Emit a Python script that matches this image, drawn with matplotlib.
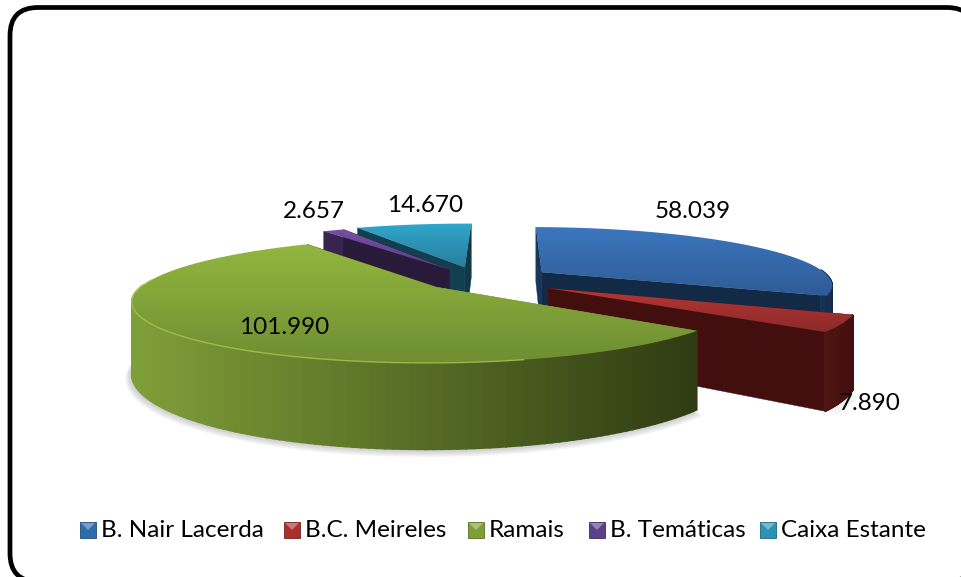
#!/usr/bin/env python3
"""Exploded 3D-look pie with legend inside a rounded frame."""
import numpy as np
import matplotlib
matplotlib.use('Agg')
import matplotlib.pyplot as plt
from matplotlib.colors import to_rgb
from matplotlib.patches import FancyBboxPatch, Polygon, Rectangle

plt.rcParams['font.family'] = ['Lato', 'DejaVu Sans']

categories = ['B. Nair Lacerda', 'B.C. Meireles', 'Ramais', 'B. Temáticas', 'Caixa Estante']
values = [58039, 7890, 101990, 2657, 14670]

# styles: top surface light/dark, wall light/dark, legend colour
top_light = ['#3b76bd', '#b53634', '#93b640', '#7350a2', '#2fa8cc']
top_dark = ['#2f5b96', '#8c2a2a', '#6e8e31', '#5c3e85', '#2a7d9c']
wall_light = ['#17375a', '#4e1512', '#7f9f39', '#38244f', '#123f50']
wall_dark = ['#122a45', '#430f0e', '#2f3b12', '#291a3a', '#10374a']
legend_col = ['#2f6aaa', '#a92f2d', '#7f9f35', '#5c3f85', '#2b93b3']
explode = [0.26, 0.27, 0.19, 0.22, 0.24]
label_pos = [(693, 211), (870, 404), (284, 327), (314, 211), (425, 205)]
legend_x = [80, 284, 468, 589, 760]

# projection of the pie plane onto the picture (pixels)
VX, VY = 480, 280
RX, RY = 290, 57
PERSP = 0.2
DEPTH = 67
START = 1.0


def project(x, y, z=0.0):
    s = 1.0 / (1.0 + PERSP * y)
    return VX + RX * x * s, VY - RY * y * s + DEPTH * z * s


def rim(a0, a1, off, z=0.0, scale=1.0, n=120):
    t = np.radians(np.linspace(a0, a1, n))
    return project(off[0] + scale * np.sin(t), off[1] + scale * np.cos(t), z)


def mix(c0, c1, f):
    return tuple(np.array(to_rgb(c0)) * (1 - f) + np.array(to_rgb(c1)) * f)


def gradient_fill(ax, xs, ys, c0, c1, zorder):
    """Vertical gradient clipped to the polygon xs, ys."""
    poly = Polygon(np.column_stack([xs, ys]), closed=True, fc='none', ec='none', zorder=zorder)
    ax.add_patch(poly)
    grad = np.linspace(0, 1, 64)[:, None, None]
    img = np.array(to_rgb(c0))[None, None, :] * (1 - grad) + np.array(to_rgb(c1))[None, None, :] * grad
    im = ax.imshow(img, extent=(min(xs), max(xs), max(ys), min(ys)), aspect='auto',
                   zorder=zorder, interpolation='bilinear')
    im.set_clip_path(poly)


fig = plt.figure(figsize=(9.62, 5.77), dpi=100)
ax = fig.add_axes([0, 0, 1, 1])
ax.axis('off')

# frame runs off the right and bottom of the picture
frame = FancyBboxPatch((10, 7.5), 965, 574, boxstyle='round,pad=0,rounding_size=28',
                       fc='white', ec='black', lw=3.4, zorder=1, clip_on=False)
ax.add_patch(frame)

# slice angles, clockwise from the top
total = sum(values)
ends = START + np.cumsum(values) / total * 360
starts = np.r_[START, ends[:-1]]
mids = (starts + ends) / 2
offs = [(e * np.sin(np.radians(m)), e * np.cos(np.radians(m))) for e, m in zip(explode, mids)]

# soft shadow under the front slices
for i in (2, 1):
    for k in range(6):
        bx, by = rim(starts[i], ends[i], offs[i], z=1.0 + 0.012 * k, scale=1.0 + 0.004 * k)
        ax.fill(bx, by, color='#808080', alpha=0.09, lw=0, zorder=2)

# back to front
order = [4, 3, 0, 1, 2]
for n, i in enumerate(order):
    z0 = 3 + n
    off = offs[i]
    ax_, ay_ = project(off[0], off[1])
    bx_, by_ = project(off[0], off[1], 1.0)

    # cut faces
    for ang, col in ((starts[i], wall_light[i]), (ends[i], wall_dark[i])):
        px, py = rim(ang, ang, off, n=1)
        qx, qy = rim(ang, ang, off, z=1.0, n=1)
        ax.fill([ax_, px[0], qx[0], bx_], [ay_, py[0], qy[0], by_], color=col, lw=0.3, zorder=z0)

    # outer wall, only the part turned to the viewer
    a0, a1 = starts[i], ends[i]
    tt = np.linspace(a0, a1, 160)
    tt = tt[np.cos(np.radians(tt)) < 0.05]
    if len(tt) > 1:
        xt, yt = rim(tt[0], tt[-1], off, n=len(tt))
        xb, yb = rim(tt[0], tt[-1], off, z=1.0, n=len(tt))
        lo, hi = xt.min(), xt.max()
        for j in range(len(tt) - 1):
            f = (0.5 * (xt[j] + xt[j + 1]) - lo) / (hi - lo)
            ax.fill([xt[j], xt[j + 1], xb[j + 1], xb[j]], [yt[j], yt[j + 1], yb[j + 1], yb[j]],
                    fc=mix(wall_light[i], wall_dark[i], f), ec=mix(wall_light[i], wall_dark[i], f),
                    lw=1.2, zorder=z0 + 0.1)

    # top surface
    rx, ry = rim(a0, a1, off)
    xs = np.r_[ax_, rx]
    ys = np.r_[ay_, ry]
    gradient_fill(ax, xs, ys, top_light[i], top_dark[i], z0 + 0.2)

    if i == 2:
        # light bevel along the front rim of the big slice
        hx, hy = rim(165, a1 - 50, off)
        ax.plot(hx, hy, color='#a9c653', lw=1.0, alpha=0.8, zorder=z0 + 0.3)

for v, (lx, ly) in zip(values, label_pos):
    ax.text(lx, ly, f'{v:,}'.replace(',', '.'), ha='center', va='center',
            fontsize=17.5, color='black', zorder=20)

# legend
for name, col, lx in zip(categories, legend_col, legend_x):
    ax.add_patch(Rectangle((lx, 522), 16, 16, fc=col, ec=mix(col, '#000000', 0.3), lw=0.6, zorder=20))
    ax.add_patch(Polygon([(lx + 1, 523), (lx + 15, 523), (lx + 8, 530)], closed=True,
                         fc=mix(col, '#ffffff', 0.35), ec='none', zorder=21))
    ax.text(lx + 21, 530.5, name, ha='left', va='center', fontsize=17.5, color='black', zorder=20)

ax.set_xlim(0, 962)
ax.set_ylim(577, 0)
fig.savefig('out.png', dpi=100)
